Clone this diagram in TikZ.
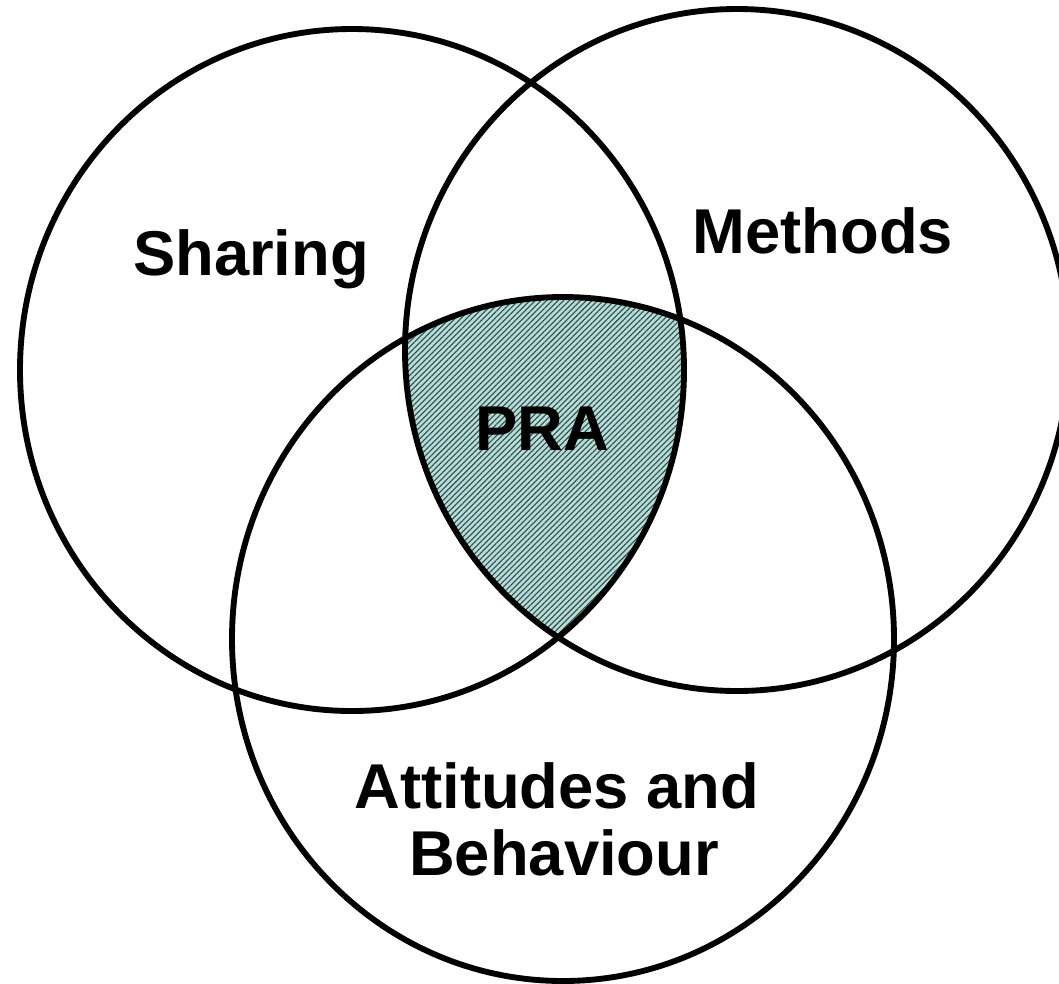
\documentclass[tikz,border=0pt]{standalone}
\usepackage{fontspec}
\setmainfont{Liberation Sans}
\usetikzlibrary{patterns.meta}
\definecolor{praback}{RGB}{178,222,218}
\definecolor{praline}{RGB}{55,70,70}

\begin{document}
\begin{tikzpicture}[x=0.75pt, y=-0.75pt, line width=4.4pt,
		setlabel/.style={font=\fontsize{47.5}{50}\selectfont\bfseries, inner sep=0pt, anchor=base}]
			%%%%% START %%%%%
			
			\useasboundingbox (0, 0) rectangle (1059, 983);
			\clip (0, 0) rectangle (1059, 983);
			
			% shaded middle: inside all three sets
			\begin{scope}
				\clip (352, 370) ellipse [x radius=332, y radius=341];
				\clip (737, 350) ellipse [x radius=332, y radius=341];
				\fill[praback] (563, 639) ellipse [x radius=331, y radius=342];
				\fill[pattern={Lines[angle=45, distance=3pt, line width=0.8pt]}, pattern color=praline] (563, 639) ellipse [x radius=331, y radius=342];
			\end{scope}
			
			\draw (352, 370) ellipse [x radius=332, y radius=341];
			\draw (737, 350) ellipse [x radius=332, y radius=341];
			\draw (563, 639) ellipse [x radius=331, y radius=342];
			
			\node[setlabel] (sharing) at (251, 275) {Sharing};
			\node[setlabel] (methods) at (823, 253) {Methods};
			\node[setlabel] (attitudes) at (557, 808) {Attitudes and};
			\node[setlabel] (behaviour) at (564, 875) {Behaviour};
			\node[setlabel] (pra) at (542, 450) {PRA};
			
			%%%%% END %%%%%
		\end{tikzpicture}
\end{document}
